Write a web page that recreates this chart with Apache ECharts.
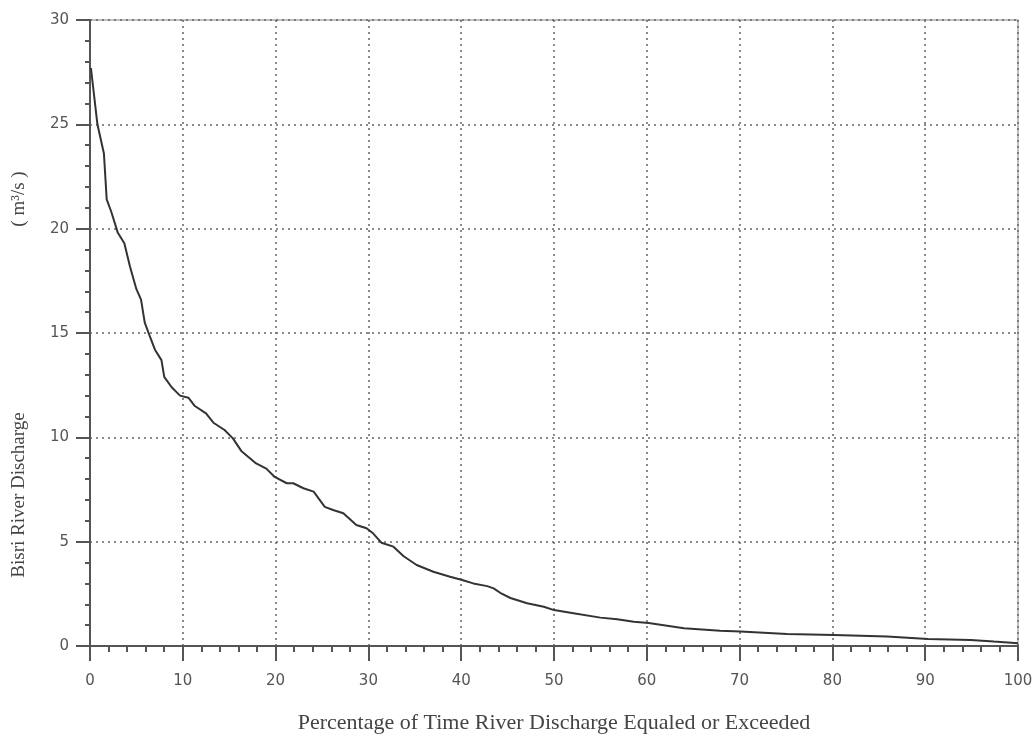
<!DOCTYPE html>
<html>
<head>
<meta charset="utf-8">
<script src="https://cdn.jsdelivr.net/npm/echarts@6/dist/echarts.min.js"></script>
<style>
  html, body { margin: 0; padding: 0; background: #fff; }
  #chart { width: 1034px; height: 736px; }
</style>
</head>
<body>
<div id="chart"></div>
<script>
// flow duration curve
const percentExceeded = [0.1, 0.8, 1.5, 1.8, 2.3, 3.0, 3.7, 4.3, 5.0, 5.5, 5.9, 6.4, 7.0, 7.7, 8.0, 8.8, 9.7,
  10.6, 11.3, 12.5, 13.3, 14.5, 15.4, 16.3, 17.9, 19.0, 19.9, 21.2, 21.9, 23.0, 24.1, 25.3, 26.2, 27.3,
  28.7, 29.8, 30.5, 31.4, 32.7, 33.8, 35.2, 37.0, 38.8, 40.1, 41.3, 42.8, 43.5, 44.2, 45.3, 47.1, 48.9,
  50.0, 52.1, 55.0, 56.8, 58.6, 60.2, 64.0, 67.9, 70.1, 75.1, 80.2, 85.9, 90.3, 94.9, 97.4, 100];
const discharge = [27.7, 25.0, 23.6, 21.4, 20.8, 19.8, 19.3, 18.2, 17.1, 16.6, 15.5, 14.9, 14.2, 13.7, 12.9, 12.4, 12.0,
  11.9, 11.5, 11.15, 10.7, 10.35, 9.95, 9.35, 8.75, 8.5, 8.1, 7.8, 7.8, 7.56, 7.4, 6.67, 6.52, 6.36,
  5.8, 5.64, 5.4, 4.95, 4.76, 4.3, 3.88, 3.56, 3.32, 3.16, 3.0, 2.87, 2.76, 2.55, 2.3, 2.05, 1.88,
  1.72, 1.57, 1.36, 1.28, 1.16, 1.1, 0.85, 0.73, 0.69, 0.58, 0.53, 0.45, 0.34, 0.29, 0.21, 0.13];

const xTitle = 'Percentage of Time River Discharge Equaled or Exceeded';
const yTitle = 'Bisri River Discharge';
const yUnit = '( m\u00b3/s )';

const chart = echarts.init(document.getElementById('chart'));

const dotted = { color: '#666', width: 1.5, type: [2, 4] };
const tickFont = { color: '#555', fontFamily: 'DejaVu Sans', fontSize: 15 };
const titleFont = { fontFamily: 'Liberation Serif', fontSize: 19, fill: '#444', align: 'center', verticalAlign: 'middle' };

chart.setOption({
  animation: false,
  grid: {
    left: 90, right: 16, top: 20, bottom: 90,
    outerBoundsMode: 'none',
    show: true, borderColor: '#aaa', borderWidth: 1.5
  },
  xAxis: {
    type: 'value', min: 0, max: 100, interval: 10,
    name: xTitle, nameLocation: 'middle', nameGap: 66,
    nameTextStyle: { fontFamily: 'Liberation Serif', fontSize: 22, color: '#444' },
    axisLine: { lineStyle: { color: '#555', width: 2 } },
    axisTick: { show: true, length: 15, lineStyle: { color: '#555', width: 2 } },
    minorTick: { show: true, splitNumber: 5, length: 6, lineStyle: { color: '#555', width: 2 } },
    axisLabel: Object.assign({ margin: 28 }, tickFont),
    splitLine: { show: true, lineStyle: dotted }
  },
  yAxis: {
    type: 'value', min: 0, max: 30, interval: 5,
    axisLine: { show: true, lineStyle: { color: '#555', width: 2 } },
    axisTick: { show: true, length: 14, lineStyle: { color: '#555', width: 2 } },
    minorTick: { show: true, splitNumber: 5, length: 5, lineStyle: { color: '#555', width: 2 } },
    axisLabel: Object.assign({ margin: 21 }, tickFont),
    splitLine: { show: true, lineStyle: dotted }
  },
  graphic: [
    { type: 'text', x: 19, y: 495, rotation: Math.PI / 2, style: Object.assign({ text: yTitle }, titleFont) },
    { type: 'text', x: 19, y: 199, rotation: Math.PI / 2, style: Object.assign({ text: yUnit }, titleFont) }
  ],
  series: [{
    type: 'line',
    data: percentExceeded.map((p, i) => [p, discharge[i]]),
    showSymbol: false,
    lineStyle: { color: '#333', width: 2 }
  }]
});
</script>
</body>
</html>
